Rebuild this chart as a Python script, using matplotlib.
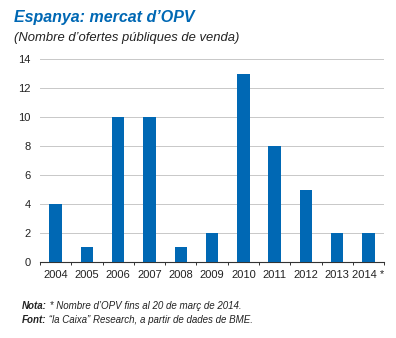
import matplotlib.pyplot as plt

years = ["2004", "2005", "2006", "2007", "2008", "2009", "2010",
         "2011", "2012", "2013", "2014 *"]
opv_count = [4, 1, 10, 10, 1, 2, 13, 8, 5, 2, 2]
y_ticks = [0, 2, 4, 6, 8, 10, 12, 14]

blue = "#0068b4"

plt.rcParams["font.family"] = ["Liberation Sans", "DejaVu Sans"]

fig = plt.figure(figsize=(3.96, 3.38), dpi=100)
ax = fig.add_axes([0.101, 0.225, 0.869, 0.6])

x = list(range(len(years)))
ax.bar(x, opv_count, width=0.4, color=blue, zorder=3)

ax.set_xlim(-0.5, len(years) - 0.5)
ax.set_ylim(0, 14)
ax.set_yticks(y_ticks)
ax.set_xticks(x)
ax.set_xticklabels(years)
ax.set_xticks([i - 0.5 for i in range(len(years) + 1)], minor=True)
ax.grid(axis="y", color="#c8c8c8", linewidth=0.7, zorder=0)

for side in ["top", "right", "left"]:
    ax.spines[side].set_visible(False)
ax.spines["bottom"].set_color("#333333")
ax.spines["bottom"].set_linewidth(0.8)
ax.tick_params(axis="both", which="major", length=0, labelsize=8, colors="#222222")
ax.tick_params(axis="x", which="minor", length=2.5, width=0.7, color="#333333")
ax.tick_params(axis="y", pad=6.5)
ax.tick_params(axis="x", which="major", pad=6)

# --- Titles and notes ---
fig.text(0.035, 0.935, "Espanya: mercat d\u2019OPV", fontsize=11.5,
         fontweight="bold", style="italic", color=blue)
fig.text(0.035, 0.88, "(Nombre d\u2019ofertes p\u00fabliques de venda)",
         fontsize=9.4, style="italic", color="#222222")

fig.canvas.draw()
renderer = fig.canvas.get_renderer()
for ypos, head, rest in [(0.085, "Nota:", " * Nombre d\u2019OPV fins al 20 de mar\u00e7 de 2014."),
                         (0.043, "Font:", " \u201cla Caixa\u201d Research, a partir de dades de BME.")]:
    t = fig.text(0.055, ypos, head, fontsize=7, style="italic",
                 fontweight="bold", color="#222222")
    w = t.get_window_extent(renderer).width / fig.bbox.width
    fig.text(0.055 + w, ypos, rest, fontsize=7, style="italic", color="#222222")

fig.savefig("out.png", dpi=100, facecolor="white")
